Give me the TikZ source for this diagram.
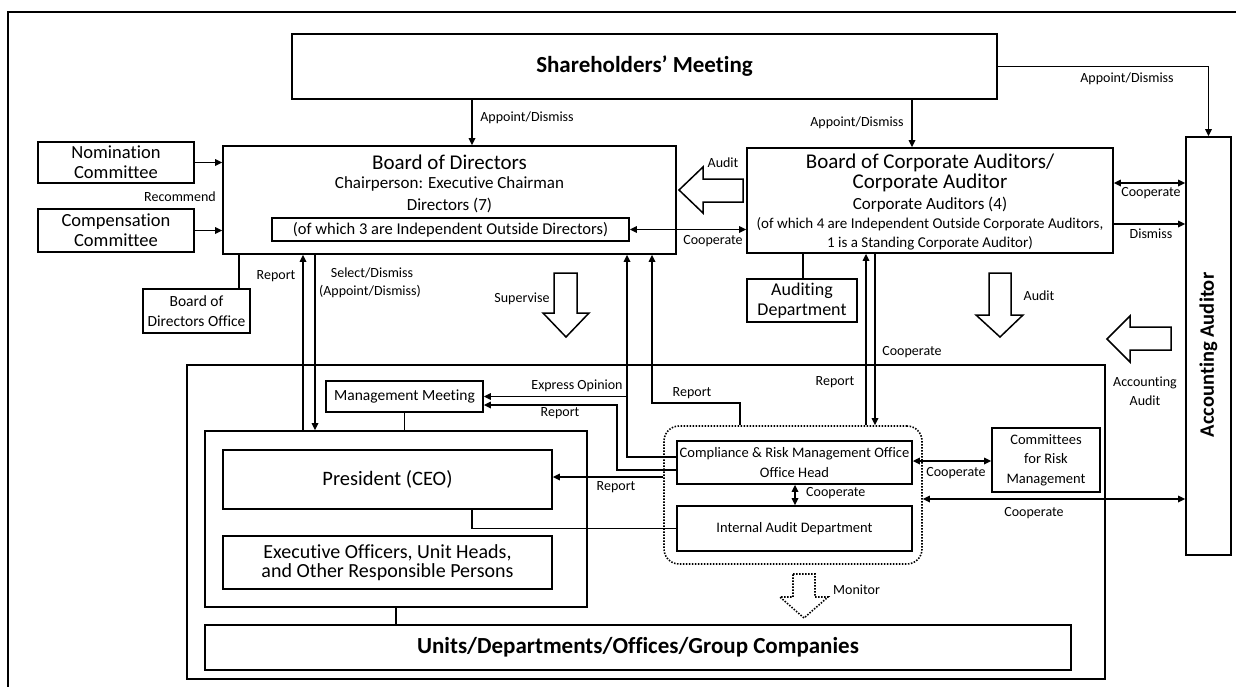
\documentclass[tikz,border=0pt]{standalone}
\usepackage{fontspec}
\setmainfont[Ligatures=NoCommon]{Carlito}
\usetikzlibrary{arrows.meta}
\newcommand{\myfs}[1]{\fontsize{#1}{#1}\selectfont}
\newcommand{\myfsl}[2]{\fontsize{#1}{#2}\selectfont}
\tikzset{
  box/.style={draw, line width=1.7pt, inner sep=0pt, align=center, fill=white},
  txt/.style={inner sep=0pt, align=center},
  lbl/.style={inner sep=0pt, align=center, font=\myfs{14}},
  conn/.style={line width=1.6pt},
  arr/.style={conn, -{Triangle[length=7pt,width=6.5pt]}},
  darr/.style={conn, {Triangle[length=7pt,width=6.5pt]}-{Triangle[length=7pt,width=6.5pt]}},
  blk/.style={draw, line width=1.5pt, fill=white, line join=miter},
  dotline/.style={line width=1.6pt, dash pattern=on 1.5pt off 1.5pt},
}
\begin{document}
\begin{tikzpicture}[x=1pt,y=-1pt]
\useasboundingbox (0,0) rectangle (1236,686);
\draw[line width=1.5pt] (8,700) -- (8,12) -- (1250,12);

% helper coordinates
\coordinate (x239) at (239,0);
\coordinate (x303) at (303,0);
\coordinate (x315) at (315,0);
\coordinate (x472) at (472,0);
\coordinate (x617) at (617,0);
\coordinate (x627) at (627,0);
\coordinate (x652) at (652,0);
\coordinate (x740) at (740,0);
\coordinate (x795) at (795,0);
\coordinate (x803) at (803,0);
\coordinate (x866) at (866,0);
\coordinate (x875) at (875,0);
\coordinate (x912) at (912,0);
\coordinate (y183) at (0,183);
\coordinate (y224) at (0,224);
\coordinate (y403) at (0,403);
\coordinate (y405) at (0,405);
\coordinate (y457) at (0,457);
\coordinate (y461) at (0,461);
\coordinate (y470) at (0,470);
\coordinate (y477) at (0,477);
\coordinate (y499) at (0,499);

% management frame
\node[box, minimum width=918pt, minimum height=314pt] (mg) at (646,522) {};

% top nodes
\node[box, minimum width=705pt, minimum height=65pt, font=\bfseries\myfs{23}] (sh) at (644.5,66.5) {Shareholders’ Meeting};

\node[box, minimum width=453pt, minimum height=108pt] (bod) at (449.5,200) {};
\node[txt, font=\myfs{21}] (bodt) at (449.5,162) {Board of Directors};
\node[txt, font=\myfs{17}] (bodc) at (449.5,184) {Chairperson: Executive Chairman};
\node[txt, font=\myfs{17}] (bodd) at (449.5,205) {Directors (7)};
\node[box, minimum width=357pt, minimum height=23pt, font=\myfs{16.5}] (bodi) at (450.5,229.5) {(of which 3 are Independent Outside Directors)};

\node[box, minimum width=366pt, minimum height=105pt] (bca) at (930,200.5) {};
\node[txt, font=\myfs{21}] (bcat) at (930,163) {Board of Corporate Auditors/};
\node[txt, font=\myfs{21}] (bcau) at (930,183) {Corporate Auditor};
\node[txt, font=\myfs{17}] (bcac) at (930,205) {Corporate Auditors (4)};
\node[txt, font=\myfs{15}] (bcao) at (930,224) {(of which 4 are Independent Outside Corporate Auditors,};
\node[txt, font=\myfs{15}] (bcas) at (930,243) {1 is a Standing Corporate Auditor)};

\node[box, minimum width=45pt, minimum height=418pt] (aa) at (1208.5,346) {};
\node[txt, rotate=90, font=\bfseries\myfs{20.5}] (aat) at (1208.5,355) {Accounting Auditor};

\node[box, minimum width=156pt, minimum height=41pt, font=\myfsl{18.5}{20}] (nom) at (116,162.5) {Nomination\\Committee};
\node[box, minimum width=156pt, minimum height=43pt, font=\myfsl{18.5}{20}] (cmp) at (116,230.5) {Compensation\\Committee};
\node[box, minimum width=107pt, minimum height=44pt, font=\myfsl{15.5}{20}] (bdo) at (196.5,311) {Board of\\Directors Office};
\node[box, minimum width=110pt, minimum height=43pt, font=\myfsl{18}{20}] (aud) at (802,300.5) {Auditing\\Department};

% management area
\node[box, minimum width=157pt, minimum height=31pt, font=\myfs{15.5}] (mm) at (404.5,396.5) {Management Meeting};
\node[box, minimum width=382pt, minimum height=176pt] (grp) at (396,519) {};
\node[box, minimum width=329pt, minimum height=59pt, font=\myfs{20.5}] (pres) at (387.5,479.5) {President (CEO)};
\node[box, minimum width=329pt, minimum height=53pt, font=\myfsl{20}{19.5}] (exec) at (387.5,562.5) {Executive Officers, Unit Heads,\\and Other Responsible Persons};
\node[box, minimum width=866pt, minimum height=45pt, font=\bfseries\myfs{23}] (units) at (638,647.5) {Units/Departments/Offices/Group Companies};

\node[draw, dotline, rounded corners=15pt, minimum width=258pt, minimum height=138pt, inner sep=0pt] (dot) at (793,495) {};
\node[box, minimum width=235pt, minimum height=43pt, font=\myfsl{14.5}{20}] (comp) at (794.5,462.5) {Compliance \& Risk Management Office\\Office Head};
\node[box, minimum width=235pt, minimum height=45pt, font=\myfs{14.5}] (ia) at (794.5,528.5) {Internal Audit Department};
\node[box, minimum width=108pt, minimum height=64pt, font=\myfsl{14.5}{19.5}] (cmt) at (1046,460) {Committees\\for Risk\\Management};

% block arrows
\draw[blk] (554,273) -- (577,273) -- (577,313) -- (589,313) -- (566,337) -- (543,313) -- (554,313) -- cycle;
\draw[blk] (989,273) -- (1011,273) -- (1011,315) -- (1023,315) -- (1000,337) -- (976,315) -- (989,315) -- cycle;
\draw[blk] (743,179) -- (703,179) -- (703,167) -- (679,190) -- (703,213) -- (703,202) -- (743,202) -- cycle;
\draw[blk] (1171,327) -- (1130,327) -- (1130,316) -- (1107,339) -- (1130,362) -- (1130,350) -- (1171,350) -- cycle;
\draw[blk, dotline] (793,574) -- (815,574) -- (815,597) -- (828,597) -- (804,618) -- (780,597) -- (793,597) -- cycle;

% connectors
\draw[arr] (sh.south -| x472) -- (bod.north -| x472);
\draw[arr] (sh.south -| x912) -- (bca.north -| x912);
\draw[arr] (sh.east) -- (sh.east -| aa.north) -- (aa.north);
\draw[arr] (nom.east) -- (nom.east -| bod.west);
\draw[arr] (cmp.east) -- (cmp.east -| bod.west);
\draw[darr] (bodi.east) -- (bodi.east -| bca.west);
\draw[darr] (bca.east |- y183) -- (aa.west |- y183);
\draw[arr] (bca.east |- y224) -- (aa.west |- y224);
\draw[arr] (grp.north -| x303) -- (bod.south -| x303);
\draw[arr] (bod.south -| x315) -- (grp.north -| x315);
\draw[conn] (bdo.north -| x239) -- (bod.south -| x239);
\draw[conn] (aud.north -| x803) -- (bca.south -| x803);
\draw[arr] (dot.north -| x866) -- (bca.south -| x866);
\draw[arr] (bca.south -| x875) -- (dot.north -| x875);
\draw[conn] (mm.south) -- (mm.south |- grp.north);
\draw[conn] (grp.south) -- (grp.south |- units.north);
\draw[arr] (comp.west |- y457) -- (x627 |- y457) -- (x627 |- bod.south);
\draw[arr] (x627 |- mm.east) -- (mm.east);
\draw[arr] (comp.west |- y470) -- (x617 |- y470) -- (x617 |- y405) -- (mm.east |- y405);
\draw[arr] (dot.north -| x740) -- (x740 |- y403) -- (x652 |- y403) -- (x652 |- bod.south);
\draw[arr] (dot.west |- y477) -- (pres.east |- y477);
\draw[conn] (pres.south -| x472) -- (x472 |- ia.west) -- (ia.west);
\draw[darr] (comp.south -| x795) -- (ia.north -| x795);
\draw[darr] (comp.east |- y461) -- (cmt.west |- y461);
\draw[darr] (dot.east |- y499) -- (aa.west |- y499);

% labels
\node[lbl] (l1) at (527,118) {Appoint/Dismiss};
\node[lbl] (l2) at (857,123) {Appoint/Dismiss};
\node[lbl] (l3) at (1127,79) {Appoint/Dismiss};
\node[lbl] (l4) at (180,197) {Recommend};
\node[lbl] (l5) at (723,163) {Audit};
\node[lbl] (l6) at (713,241) {Cooperate};
\node[lbl] (l7) at (1151,193) {Cooperate};
\node[lbl] (l8) at (1151,234) {Dismiss};
\node[lbl] (l9) at (276,276) {Report};
\node[lbl] (l10) at (372,273) {Select/Dismiss};
\node[lbl] (l11) at (370,292) {(Appoint/Dismiss)};
\node[lbl] (l12) at (522,299) {Supervise};
\node[lbl] (l13) at (1039,296) {Audit};
\node[lbl, font=\myfsl{14}{19}] (l14) at (1145,391) {Accounting\\Audit};
\node[lbl] (l15) at (912,352) {Cooperate};
\node[lbl] (l16) at (835,382) {Report};
\node[lbl] (l17) at (577,386) {Express Opinion};
\node[lbl] (l18) at (560,413) {Report};
\node[lbl] (l19) at (692,393) {Report};
\node[lbl] (l20) at (616,487) {Report};
\node[lbl, anchor=west] (l21) at (806,493) {Cooperate};
\node[lbl] (l22) at (956,473) {Cooperate};
\node[lbl] (l23) at (1034,513) {Cooperate};
\node[lbl, anchor=west] (l24) at (833,590) {Monitor};
\end{tikzpicture}
\end{document}
